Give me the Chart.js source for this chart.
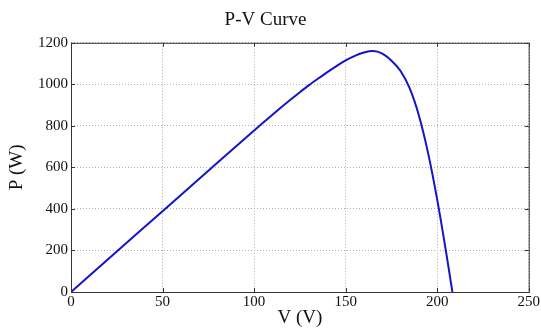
<!DOCTYPE html>
<html>
<head>
<meta charset="utf-8">
<script src="https://cdn.jsdelivr.net/npm/chart.js@4/dist/chart.umd.min.js"></script>
<style>
  html, body { margin: 0; padding: 0; background: #fff; }
  #wrap { width: 541px; height: 329px; }
</style>
</head>
<body>
<div id="wrap"><canvas id="pvChart"></canvas></div>
<script>
// Напряжение, В
const voltage = [0, 25, 50, 75, 100, 105, 110, 115, 120, 125, 130, 135, 140, 145, 150, 155, 160, 165, 170, 175, 180, 185, 190, 195, 200, 205, 208.3];
// Мощность, Вт
const power = [0, 195, 389, 584, 778, 816, 854, 891, 927, 962, 996, 1028, 1059, 1088, 1115, 1137, 1153, 1160, 1148, 1114, 1064, 980, 850, 670, 445, 185, 0];

const xTicks = [0, 50, 100, 150, 200, 250];
const yTicks = [0, 200, 400, 600, 800, 1000, 1200];

const serif = 'Liberation Serif, Times New Roman, serif';

// Рамка вокруг области графика и короткие засечки внутрь (как в MATLAB)
const boxPlugin = {
  id: 'box',
  afterDatasetsDraw(chart) {
    const { ctx, chartArea: a, scales } = chart;
    ctx.save();
    ctx.strokeStyle = '#333';
    ctx.lineWidth = 1;
    ctx.strokeRect(a.left + 0.5, a.top + 0.5, a.right - a.left, a.bottom - a.top);
    ctx.beginPath();
    xTicks.forEach(v => {
      const x = Math.round(scales.x.getPixelForValue(v)) + 0.5;
      ctx.moveTo(x, a.bottom); ctx.lineTo(x, a.bottom - 4);
      ctx.moveTo(x, a.top); ctx.lineTo(x, a.top + 4);
    });
    yTicks.forEach(v => {
      const y = Math.round(scales.y.getPixelForValue(v)) + 0.5;
      ctx.moveTo(a.left, y); ctx.lineTo(a.left + 4, y);
      ctx.moveTo(a.right, y); ctx.lineTo(a.right - 4, y);
    });
    ctx.stroke();
    ctx.restore();
  }
};

new Chart(document.getElementById('pvChart'), {
  type: 'line',
  data: {
    datasets: [{
      data: voltage.map((v, i) => ({ x: v, y: power[i] })),
      borderColor: '#1414c8',
      borderWidth: 2,
      pointRadius: 0,
      cubicInterpolationMode: 'monotone',
      fill: false
    }]
  },
  options: {
    responsive: true,
    maintainAspectRatio: false,
    animation: false,
    layout: { padding: { left: 0, right: 10, top: 0, bottom: 0 } },
    plugins: {
      legend: { display: false },
      tooltip: { enabled: false },
      title: {
        display: true,
        text: 'P-V Curve',
        color: '#111',
        font: { family: serif, size: 19, weight: 'normal' },
        padding: { top: 9, bottom: 11 }
      }
    },
    scales: {
      x: {
        type: 'linear',
        min: 0,
        max: 250,
        afterBuildTicks: s => { s.ticks = xTicks.map(v => ({ value: v })); },
        afterFit: s => { s.height = 37; },
        grid: { color: '#b0b0b0', drawTicks: false, lineWidth: 1 },
        border: { display: false, dash: [1, 2] },
        ticks: { color: '#111', font: { family: serif, size: 15 }, padding: 1, maxRotation: 0, callback: v => String(v) },
        title: {
          display: true,
          text: 'V (V)',
          color: '#111',
          font: { family: serif, size: 19 },
          padding: { top: -3, bottom: 0 }
        }
      },
      y: {
        min: 0,
        max: 1200,
        afterBuildTicks: s => { s.ticks = yTicks.map(v => ({ value: v })); },
        afterFit: s => { s.width = 71; },
        grid: { color: '#b0b0b0', drawTicks: false, lineWidth: 1 },
        border: { display: false, dash: [1, 2] },
        ticks: { color: '#111', font: { family: serif, size: 15 }, padding: 3, callback: v => String(v) },
        title: {
          display: true,
          text: 'P (W)',
          color: '#111',
          font: { family: serif, size: 19 },
          padding: { top: 6, bottom: 0 }
        }
      }
    }
  },
  plugins: [boxPlugin]
});
</script>
</body>
</html>
